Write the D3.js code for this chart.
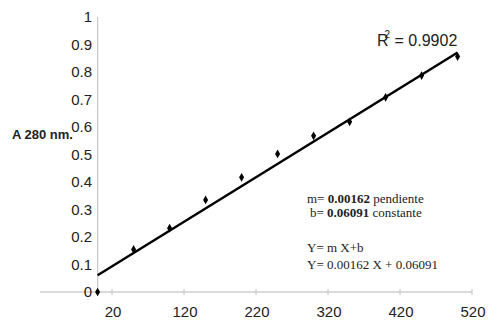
<!DOCTYPE html>
<html>
<head>
<meta charset="utf-8">
<script src="https://cdn.jsdelivr.net/npm/d3@7"></script>
<style>
  body { margin: 0; background: #fff; }
  svg text { font-family: "Liberation Sans", Arial, sans-serif; }
</style>
</head>
<body>
<div id="chart"></div>
<script>
// concentration vs absorbance at 280 nm
const concentrations = [0, 50, 100, 150, 200, 250, 300, 350, 400, 450, 500];
const absorbances = [0, 0.155, 0.232, 0.335, 0.417, 0.502, 0.568, 0.619, 0.708, 0.787, 0.856];
const xTicks = [20, 120, 220, 320, 420, 520];
const yTicks = [0, 0.1, 0.2, 0.3, 0.4, 0.5, 0.6, 0.7, 0.8, 0.9, 1];
const slope = 0.00162;
const intercept = 0.06091;
const rSquared = "0.9902";

const width = 493, height = 326;

const svg = d3.select('#chart')
  .append('svg')
  .attr('width', width)
  .attr('height', height);

const x = d3.scaleLinear().domain([-80, 520]).range([40, 472]);
const y = d3.scaleLinear().domain([0, 1]).range([292, 17]);

// x axis
svg.append('line')
  .attr('x1', x(-80)).attr('x2', x(520))
  .attr('y1', y(0)).attr('y2', y(0))
  .attr('stroke', '#b8b8b8').attr('stroke-width', 1.2);

svg.selectAll('.xtick')
  .data(xTicks).enter()
  .append('line')
  .attr('x1', d => x(d)).attr('x2', d => x(d))
  .attr('y1', y(0) - 3).attr('y2', y(0) + 3)
  .attr('stroke', '#c4c4c4');

svg.selectAll('.xlabel')
  .data(xTicks).enter()
  .append('text')
  .attr('x', d => x(d) + 1)
  .attr('y', 317)
  .attr('text-anchor', 'middle')
  .attr('font-size', 15)
  .attr('fill', '#222')
  .text(d => d);

// y axis
svg.append('line')
  .attr('x1', x(0)).attr('x2', x(0))
  .attr('y1', y(1)).attr('y2', y(0))
  .attr('stroke', '#c8c8c8').attr('stroke-width', 1.2);

svg.selectAll('.ylabel')
  .data(yTicks).enter()
  .append('text')
  .attr('x', 92)
  .attr('y', d => y(d) + 5)
  .attr('text-anchor', 'end')
  .attr('font-size', 15)
  .attr('fill', '#222')
  .text(d => d);

svg.append('text')
  .attr('x', 12)
  .attr('y', 139)
  .attr('font-size', 13)
  .attr('font-weight', 'bold')
  .attr('fill', '#222')
  .text('A 280 nm.');

// trend line
const fit = d3.line()
  .x(d => x(d))
  .y(d => y(slope * d + intercept));

svg.append('path')
  .datum([concentrations[0], concentrations[concentrations.length - 1]])
  .attr('d', fit)
  .attr('fill', 'none')
  .attr('stroke', '#000')
  .attr('stroke-width', 2.5);

// points
const diamond = d3.symbol().type(d3.symbolDiamond).size(22);
svg.selectAll('.pt')
  .data(concentrations.map((c, i) => [c, absorbances[i]])).enter()
  .append('path')
  .attr('d', diamond)
  .attr('transform', d => `translate(${x(d[0])},${y(d[1])})`)
  .attr('fill', '#000');

// R squared
const r2 = svg.append('text')
  .attr('x', 377)
  .attr('y', 46)
  .attr('font-size', 16)
  .attr('fill', '#222');
r2.append('tspan').text('R');
r2.append('tspan').attr('dx', -4).attr('dy', -8).attr('font-size', 10).text('2');
r2.append('tspan').attr('dy', 8).text(' = ' + rSquared);

// equation notes
const notes = svg.append('g')
  .attr('font-size', 13)
  .attr('fill', '#222');

function note(xPos, yPos, parts) {
  const t = notes.append('text')
    .attr('x', xPos).attr('y', yPos)
    .style('font-family', '"Liberation Serif", "Times New Roman", serif');
  parts.forEach(p => {
    t.append('tspan')
      .attr('font-weight', p[1] ? 'bold' : 'normal')
      .text(p[0]);
  });
}

note(307, 203, [['m= ', false], [String(slope), true], [' pendiente', false]]);
note(310, 217, [['b= ', false], [intercept.toFixed(5), true], ['  constante', false]]);
note(307, 252, [['Y= m X+b', false]]);
note(307, 269, [['Y= ' + slope + ' X + ' + intercept.toFixed(5), false]]);
</script>
</body>
</html>
